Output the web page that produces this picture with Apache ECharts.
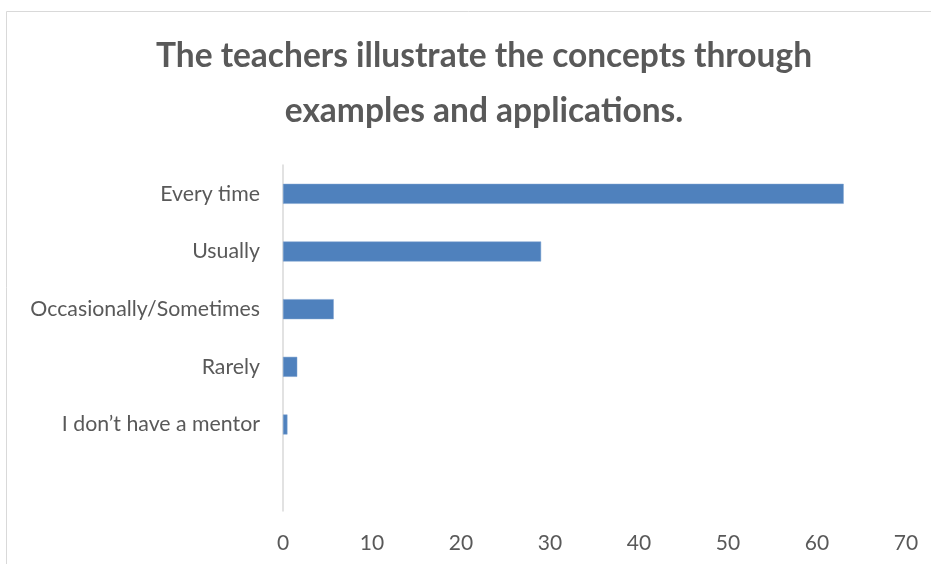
<!DOCTYPE html>
<html>
<head>
<meta charset="utf-8">
<script src="https://cdn.jsdelivr.net/npm/echarts@6/dist/echarts.min.js"></script>
<style>
html,body{margin:0;padding:0;background:#fff;}
#c{width:931px;height:564px;}
</style>
</head>
<body>
<div id="c"></div>
<script>
const titleText = 'The teachers illustrate the concepts through\nexamples and applications.';
const categories = ['Every time', 'Usually', 'Occasionally/Sometimes', 'Rarely', 'I don\u2019t have a mentor', ''];
const values = [63, 29, 5.7, 1.6, 0.5, null];
const xTicks = { min: 0, max: 70, interval: 10 };

const chart = echarts.init(document.getElementById('c'), null, { renderer: 'canvas' });
chart.setOption({
  animation: false,
  backgroundColor: '#ffffff',
  title: {
    text: titleText,
    left: 479,
    top: 24,
    textAlign: 'center',
    textStyle: {
      fontFamily: 'Lato',
      fontWeight: 'bold',
      fontSize: 33.5,
      color: '#595959',
      lineHeight: 55
    }
  },
  graphic: [{
    type: 'polyline',
    shape: { points: [[6.5, 564], [6.5, 11.5], [931, 11.5]] },
    style: { stroke: '#d9d9d9', lineWidth: 1, fill: null },
    silent: true
  }],
  grid: { left: 283, right: 25, top: 165, bottom: 53, containLabel: false },
  xAxis: {
    type: 'value',
    min: xTicks.min,
    max: xTicks.max,
    interval: xTicks.interval,
    axisLine: { show: false },
    axisTick: { show: false },
    splitLine: { show: false },
    axisLabel: { color: '#595959', fontFamily: 'Lato', fontSize: 21, margin: 22 }
  },
  yAxis: {
    type: 'category',
    data: categories,
    inverse: true,
    axisLine: { show: true, lineStyle: { color: '#d9d9d9', width: 1.5 } },
    axisTick: { show: false },
    axisLabel: { color: '#595959', fontFamily: 'Lato', fontSize: 21.3, margin: 23 }
  },
  series: [{
    type: 'bar',
    data: values,
    barWidth: 20,
    itemStyle: { color: '#4f81bd', borderColor: '#7fa3d1', borderWidth: 0.5 }
  }]
});
</script>
</body>
</html>
